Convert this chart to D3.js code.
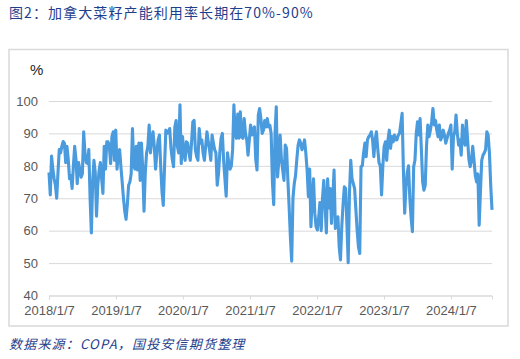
<!DOCTYPE html>
<html>
<head>
  <meta charset="utf-8">
  <title>加拿大菜籽产能利用率</title>
  <script src="https://d3js.org/d3.v7.min.js"></script>
  <style>
    body { margin: 0; background: #fff; }
    .gridlines line { stroke: #d9d9d9; }
    .gridlines .domain { stroke: none; }
    .tick text { fill: #595959; font-family: "Liberation Sans", Arial, sans-serif; font-size: 13px; }
  </style>
</head>
<body>
<div id="chart"></div>
<script>
// weekly series, first week 2018/1/7
const startDate = "2018-01-07";
const rates = [
  78, 71, 83, 79, 76, 74, 70, 78, 85, 84, 86, 87.5, 87, 81, 86, 82, 76, 77, 73, 80,
  86, 82, 74.5, 81, 79, 76.5, 77.6, 90.5, 84, 81, 80.7, 85, 70, 59.3, 75, 81.7, 78, 64.5, 74, 78.5,
  81, 76, 71.5, 86, 79, 87.4, 87.4, 86, 80.7, 89, 90.5, 81.7, 91, 79, 84, 85, 79.7, 75, 70, 66,
  63.5, 68, 74, 75, 77.6, 91.5, 80, 79, 86, 78.7, 87, 75.5, 87, 79, 66, 78, 84, 86, 92.6, 84,
  88, 90.5, 86, 79, 84, 88, 89.5, 79.7, 72, 67.8, 80, 91, 90, 90.5, 91.5, 85.4, 82, 79.7, 92, 94,
  86, 84, 98.8, 80.7, 89, 84, 81.7, 87.4, 87, 84, 81.7, 87, 93.6, 94, 85, 82.8, 81.7, 91.5, 87, 88,
  84, 81.7, 86, 90.5, 87.4, 85, 81.7, 89.5, 87, 85, 84, 74, 77.6, 84, 88.5, 90, 81.7, 76, 70.6, 84,
  81, 79, 80, 85, 98.8, 90, 88.5, 96, 88.5, 96.7, 89, 88.5, 94.6, 90, 88, 83.3, 88, 92.6, 89.5, 91,
  92, 82, 78.7, 95.7,
  97.7, 94.6, 90, 91, 94, 92, 94.6, 92, 92.5, 90, 75, 68, 90, 98.2, 76.6, 81.7, 89.5, 82, 78.7, 75.5,
  86.4, 85.4, 76, 67.4, 58, 50.6, 70, 74.5, 77, 82, 86.4, 88, 87, 85, 86, 88, 84, 78.7, 70.5, 79,
  61.2, 70, 76, 65.4, 61.2, 60.2, 64, 68.7, 60, 70, 75.5, 68, 59.3, 76, 67, 73, 62.2, 70, 78.7, 60.7,
  62, 64.3, 55, 51, 61.2, 68, 73.5, 73, 62, 50.1, 71.6, 81.7, 76, 74.5, 73, 66.4, 60, 55, 53, 79.7,
  80, 84, 87, 82.8, 88, 89, 89.5, 90.5, 88, 82.8, 88, 90.5, 85.4, 81, 80, 71, 80, 86, 87.4, 81.7,
  88, 91, 85.4, 89, 87.4, 89.5, 88, 88, 89.5, 90, 93, 96.2, 78.7, 65.4, 73.5, 78, 80, 70, 64, 59.7,
  79.7, 81.7, 90, 93.6, 89.5, 94.6, 85, 75, 72.5, 74, 86, 92.6, 89, 91, 93.6, 97.7, 92.6, 94, 91, 89,
  92.6, 88, 89, 91, 89.5, 87, 88.5, 90, 91, 92.6, 79, 89, 90.5, 95.7, 90, 86.4, 88, 83.3, 92.6, 88,
  86.4, 94, 88, 82, 79.7, 81.7, 86, 81.7, 77, 75, 77.5, 61.7, 72, 81.7, 83.3, 84, 85, 90.5, 89.5, 84,
  74, 66.4
];
const yTicks = [40, 50, 60, 70, 80, 90, 100];
const xTickLabels = ["2018/1/7", "2019/1/7", "2020/1/7", "2021/1/7", "2022/1/7", "2023/1/7", "2024/1/7"];
const titleText = "图2：加拿大菜籽产能利用率长期在70%-90%";
const sourceText = "数据来源：COPA，国投安信期货整理";
const unitText = "%";

const width = 520;
const height = 359;
const margins = { top: 101, right: 28, bottom: 63.5, left: 49 };
const chartWidth = width - margins.left - margins.right;
const chartHeight = height - margins.top - margins.bottom;

const parse = d3.timeParse("%Y-%m-%d");
const parseTick = d3.timeParse("%Y/%m/%d");
const t0 = parse(startDate);
const data = rates.map((v, i) => ({ date: d3.timeWeek.offset(t0, i), value: v }));

const svg = d3.select("#chart")
  .append("svg")
  .attr("width", width)
  .attr("height", height);

// title and source
svg.append("text")
  .attr("x", 9)
  .attr("y", 18)
  .attr("fill", "#1f3e8c")
  .attr("font-family", "'Noto Sans CJK SC', sans-serif")
  .attr("font-size", 14)
  .attr("letter-spacing", 1.1)
  .text(titleText);

svg.append("text")
  .attr("x", 9)
  .attr("y", 349)
  .attr("fill", "#1f3e8c")
  .attr("font-family", "'Noto Sans CJK SC', sans-serif")
  .attr("font-size", 13)
  .attr("font-style", "italic")
  .attr("letter-spacing", 1.2)
  .text(sourceText);

// chart frame
svg.append("rect")
  .attr("x", 9)
  .attr("y", 49.5)
  .attr("width", 499)
  .attr("height", 276.5)
  .attr("fill", "none")
  .attr("stroke", "#d9d9d9")
  .attr("stroke-width", 1.5);

let chartArea = svg.append("g")
  .attr("transform", `translate(${margins.left},${margins.top})`);

const xScale = d3.scaleTime()
  .domain(d3.extent(data, d => d.date))
  .range([0, chartWidth]);

const yScale = d3.scaleLinear()
  .domain([40, 100])
  .range([chartHeight, 0]);

// y gridlines + labels
const yGridlines = d3.axisLeft(yScale)
  .tickValues(yTicks)
  .tickSize(-chartWidth)
  .tickFormat("");
chartArea.append("g")
  .attr("class", "gridlines")
  .call(yGridlines);

const yAxis = d3.axisLeft(yScale)
  .tickValues(yTicks)
  .tickSize(0)
  .tickPadding(11);
chartArea.append("g")
  .call(yAxis)
  .call(g => g.select(".domain").remove());

// x axis
const xTickDates = xTickLabels.map(s => parseTick(s));
const xAxis = d3.axisBottom(xScale)
  .tickValues(xTickDates)
  .tickSize(4)
  .tickPadding(6)
  .tickFormat((d, i) => xTickLabels[i]);
chartArea.append("g")
  .attr("transform", `translate(0, ${chartHeight})`)
  .call(xAxis)
  .call(g => g.select(".domain").attr("stroke", "#d9d9d9"))
  .call(g => g.selectAll(".tick line").attr("stroke", "#d9d9d9"));

// unit label
svg.append("text")
  .attr("x", 30)
  .attr("y", 75)
  .attr("fill", "#262626")
  .attr("font-family", "'Liberation Sans', Arial, sans-serif")
  .attr("font-size", 15)
  .text(unitText);

// line
const line = d3.line()
  .x(d => xScale(d.date))
  .y(d => yScale(d.value));

chartArea.append("path")
  .datum(data)
  .attr("d", line)
  .attr("fill", "none")
  .attr("stroke", "#4a9ade")
  .attr("stroke-width", 3.1)
  .attr("stroke-linejoin", "round");
</script>
</body>
</html>
